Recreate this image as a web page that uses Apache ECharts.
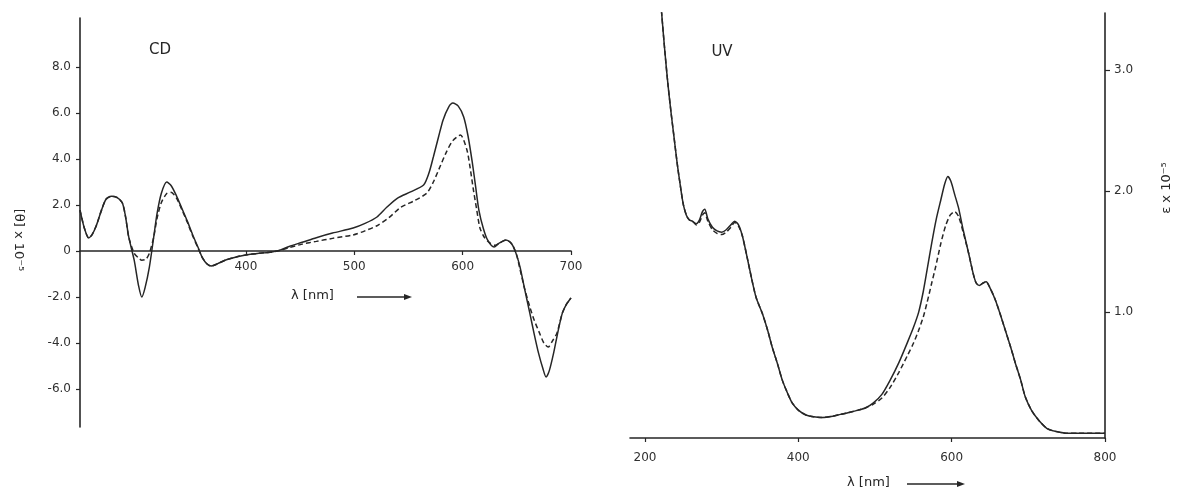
<!DOCTYPE html>
<html><head><meta charset="utf-8">
<script src="https://cdn.jsdelivr.net/npm/echarts@6/dist/echarts.min.js"></script>
<style>html,body{margin:0;padding:0;background:#fff}#c{width:1181px;height:493px}</style>
</head><body><div id="c"></div>
<script>
// CD spectrum: [wavelength nm, [θ] x 10^-5]
const cdSolid = [[247,1.78],[251,1.0],[255,0.57],[258,0.7],[262,1.1],[267,1.8],[271,2.25],[276,2.38],[281,2.33],[286,2.1],[289,1.5],[292,0.6],[297,-0.4],[301,-1.5],[304,-2.0],[307,-1.6],[311,-0.7],[315,0.6],[318,1.6],[322,2.5],[327,3.0],[331,2.85],[336,2.4],[341,1.85],[346,1.3],[351,0.7],[356,0.15],[360,-0.3],[364,-0.55],[368,-0.65],[374,-0.55],[382,-0.38],[392,-0.25],[400,-0.17],[412,-0.1],[424,-0.04],[432,0.05],[440,0.2],[452,0.38],[465,0.58],[480,0.78],[499,1.0],[510,1.2],[521,1.48],[530,1.9],[540,2.3],[552,2.57],[564,2.87],[569,3.4],[573,4.09],[578,5.0],[582,5.7],[587,6.25],[591,6.43],[596,6.3],[601,5.83],[605,5.0],[609,3.83],[612,2.8],[615,1.78],[619,1.0],[623,0.48],[629,0.17],[634,0.35],[640,0.48],[644,0.38],[647,0.17],[650,-0.2],[653,-0.7],[657,-1.6],[662,-2.7],[666,-3.6],[670,-4.43],[674,-5.1],[677,-5.48],[680,-5.2],[684,-4.43],[688,-3.5],[692,-2.7],[696,-2.3],[700,-2.04]];
const cdDashed = [[247,1.78],[251,1.0],[255,0.57],[258,0.7],[262,1.1],[267,1.8],[271,2.25],[276,2.38],[281,2.33],[286,2.1],[289,1.5],[292,0.6],[297,-0.1],[301,-0.3],[304,-0.4],[308,-0.35],[311,-0.1],[315,0.6],[318,1.4],[322,2.1],[327,2.5],[331,2.55],[336,2.3],[341,1.8],[346,1.25],[351,0.65],[356,0.12],[360,-0.3],[364,-0.55],[368,-0.65],[374,-0.55],[382,-0.38],[392,-0.25],[400,-0.17],[412,-0.1],[424,-0.04],[432,0.03],[440,0.15],[452,0.3],[465,0.42],[480,0.55],[499,0.7],[510,0.88],[521,1.1],[532,1.45],[543,1.9],[556,2.2],[567,2.52],[573,3.0],[579,3.65],[585,4.3],[591,4.8],[598,5.04],[604,4.39],[607,3.6],[610,2.65],[613,1.8],[616,1.0],[620,0.6],[625,0.35],[630,0.25],[634,0.35],[640,0.48],[644,0.38],[647,0.17],[650,-0.2],[653,-0.8],[657,-1.6],[662,-2.43],[666,-3.0],[671,-3.57],[675,-4.0],[679,-4.17],[683,-3.9],[687,-3.57],[692,-2.7],[696,-2.3],[700,-2.04]];
// UV spectrum: [wavelength nm, ε x 10^-5]
const uvSolid = [[220,3.62],[222,3.45],[226,3.15],[230,2.88],[234,2.65],[238,2.44],[242,2.23],[246,2.05],[250,1.89],[254,1.80],[258,1.76],[262,1.75],[267,1.73],[271,1.76],[275,1.83],[278,1.85],[282,1.77],[288,1.70],[294,1.67],[300,1.66],[306,1.68],[312,1.72],[317,1.75],[322,1.72],[327,1.63],[333,1.46],[339,1.28],[345,1.12],[353,0.99],[360,0.85],[366,0.71],[373,0.57],[379,0.44],[386,0.33],[392,0.25],[400,0.19],[410,0.15],[420,0.135],[431,0.13],[445,0.14],[455,0.155],[466,0.17],[478,0.19],[488,0.21],[498,0.25],[509,0.32],[520,0.44],[531,0.58],[543,0.76],[550,0.87],[557,1.0],[563,1.17],[568,1.35],[574,1.57],[580,1.77],[586,1.93],[591,2.06],[595,2.12],[599,2.08],[604,1.97],[609,1.86],[615,1.68],[622,1.49],[628,1.32],[632,1.24],[636,1.22],[641,1.24],[645,1.25],[650,1.2],[657,1.1],[664,0.97],[670,0.85],[677,0.71],[683,0.58],[690,0.44],[696,0.30],[704,0.19],[713,0.11],[724,0.04],[735,0.015],[750,0.0],[765,0.0],[800,0.0]];
const uvDashed = [[220,3.62],[222,3.45],[226,3.15],[230,2.88],[234,2.65],[238,2.44],[242,2.23],[246,2.05],[250,1.89],[254,1.80],[258,1.76],[262,1.75],[267,1.72],[271,1.74],[275,1.80],[278,1.82],[282,1.75],[288,1.68],[294,1.65],[300,1.64],[306,1.66],[312,1.70],[317,1.74],[322,1.71],[327,1.63],[333,1.46],[339,1.28],[345,1.12],[353,0.99],[360,0.85],[366,0.71],[373,0.57],[379,0.44],[386,0.33],[392,0.25],[400,0.19],[410,0.15],[420,0.135],[431,0.13],[445,0.14],[455,0.155],[466,0.17],[478,0.19],[488,0.21],[498,0.24],[509,0.29],[520,0.38],[531,0.5],[543,0.65],[550,0.74],[557,0.85],[563,0.96],[568,1.08],[574,1.24],[579,1.37],[586,1.57],[592,1.71],[598,1.80],[604,1.83],[609,1.79],[615,1.66],[622,1.49],[628,1.32],[632,1.24],[636,1.22],[641,1.24],[645,1.25],[650,1.2],[657,1.1],[664,0.97],[670,0.85],[677,0.71],[683,0.58],[690,0.44],[696,0.30],[704,0.19],[713,0.11],[724,0.04],[735,0.015],[750,0.0],[765,0.0],[800,0.0]];
const cdTicksY = [-6,-4,-2,0,2,4,6,8];
const cdTicksX = [400,500,600,700];
const uvTicksY = [1,2,3];
const uvTicksX = [200,400,600,800];

const ink = '#262626';
const font = 'DejaVu Sans, Liberation Sans, sans-serif';
const chart = echarts.init(document.getElementById('c'));
const axisLine = {lineStyle:{color:ink,width:1.6}};
const tickStyle = {color:ink,width:1.2};
const lbl = {color:'#303030',fontSize:12,fontFamily:font};
const cdMin = -7.65, cdMax = 10.13, cdTop = 18, cdHeight = 409;
// shift the CD wavelength axis up so it sits on the zero line
const cdZeroOffset = -Math.round(cdHeight * (0 - cdMin) / (cdMax - cdMin));
function lineSeries(data, xi, dashed){
  return {type:'line', xAxisIndex:xi, yAxisIndex:xi, data:data, symbol:'none', smooth:0.25, clip:true,
    lineStyle:{color:ink, width:1.5, type: dashed ? [5,3] : 'solid'}, emphasis:{disabled:true}};
}
function arrow(x1,x2,y){
  return [
    {type:'line', shape:{x1:x1,y1:y,x2:x2-6,y2:y}, style:{stroke:ink,lineWidth:1.4}},
    {type:'polygon', shape:{points:[[x2-8,y-3],[x2,y],[x2-8,y+3]]}, style:{fill:ink}}
  ];
}
chart.setOption({
  animation:false,
  backgroundColor:'#ffffff',
  grid:[{left:80, top:cdTop, width:491, height:cdHeight},{left:630, top:13, width:475, height:425}],
  xAxis:[
    {gridIndex:0, type:'value', min:247, max:700, offset:cdZeroOffset, axisLine:Object.assign({onZero:false},axisLine),
     axisTick:{customValues:cdTicksX, length:4, lineStyle:tickStyle},
     axisLabel:Object.assign({customValues:cdTicksX, margin:10},lbl), splitLine:{show:false}},
    {gridIndex:1, type:'value', min:180.5, max:800, axisLine:Object.assign({onZero:false},axisLine),
     axisTick:{customValues:uvTicksX, length:4, lineStyle:tickStyle},
     axisLabel:Object.assign({customValues:uvTicksX, margin:14},lbl), splitLine:{show:false}}
  ],
  yAxis:[
    {gridIndex:0, type:'value', min:cdMin, max:cdMax, axisLine:Object.assign({show:true,onZero:false},axisLine),
     axisTick:{show:true, customValues:cdTicksY, length:4, lineStyle:tickStyle},
     axisLabel:Object.assign({customValues:cdTicksY, margin:9, formatter:v=> v===0 ? '0' : v.toFixed(1)},lbl),
     splitLine:{show:false}},
    {gridIndex:1, type:'value', position:'right', min:-0.04, max:3.47, axisLine:Object.assign({show:true,onZero:false},axisLine),
     axisTick:{show:true, customValues:uvTicksY, length:5, lineStyle:tickStyle},
     axisLabel:Object.assign({customValues:uvTicksY, margin:9, formatter:v=>v.toFixed(1)},lbl),
     splitLine:{show:false}}
  ],
  series:[
    lineSeries(cdSolid,0,false), lineSeries(cdDashed,0,true),
    lineSeries(uvSolid,1,false), lineSeries(uvDashed,1,true)
  ],
  graphic:[
    {type:'text', x:160, y:50, style:{text:'CD', font:'15px '+font, fill:ink, textAlign:'center', textVerticalAlign:'middle'}},
    {type:'text', x:722, y:52, style:{text:'UV', font:'15px '+font, fill:ink, textAlign:'center', textVerticalAlign:'middle'}},
    {type:'text', x:18, y:240, rotation:-Math.PI/2, style:{text:'[θ] x 10⁻⁵', font:'13px '+font, fill:ink, textAlign:'center', textVerticalAlign:'middle'}},
    {type:'text', x:1167, y:188, rotation:Math.PI/2, style:{text:'ε x 10⁻⁵', font:'13px '+font, fill:ink, textAlign:'center', textVerticalAlign:'middle'}},
    {type:'text', x:291, y:296, style:{text:'λ [nm]', font:'13px '+font, fill:ink, textAlign:'left', textVerticalAlign:'middle'}},
    {type:'text', x:847, y:483, style:{text:'λ [nm]', font:'13px '+font, fill:ink, textAlign:'left', textVerticalAlign:'middle'}}
  ].concat(arrow(357,412,297), arrow(907,965,484))
});
</script></body></html>
